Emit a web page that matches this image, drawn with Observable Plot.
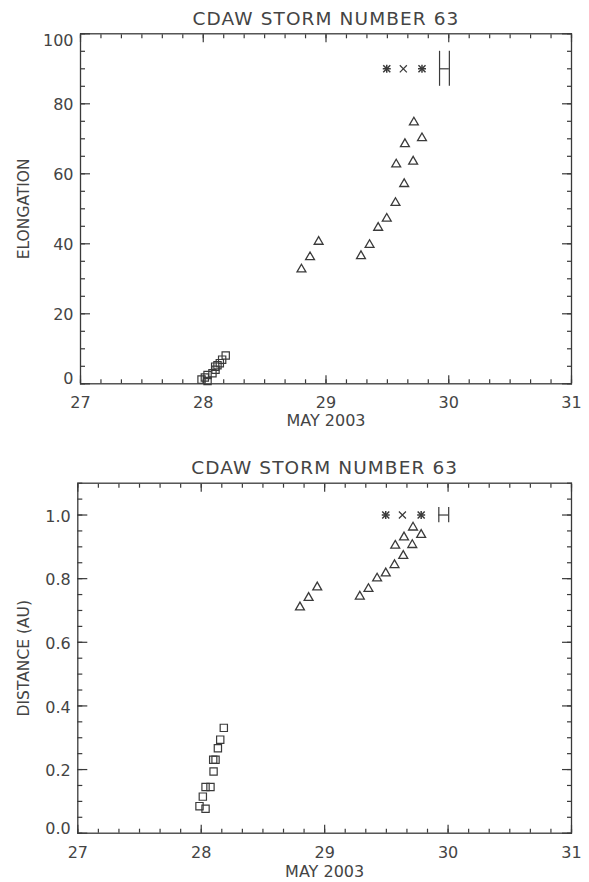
<!DOCTYPE html>
<html><head><meta charset="utf-8">
<script src="https://cdn.jsdelivr.net/npm/d3@7"></script>
<script src="https://cdn.jsdelivr.net/npm/@observablehq/plot@0.6"></script>
<style>
html,body{margin:0;padding:0;background:#fff;}
#chart{width:589px;height:882px;}
#chart svg{display:block;}
</style></head><body><div id="chart"></div>
<script>
// ---- data ----
const title = "CDAW STORM NUMBER 63";
const xLabel = "MAY 2003";
const yLabelTop = "ELONGATION";
const yLabelBottom = "DISTANCE (AU)";

const xTicks = [27, 28, 29, 30, 31];
const yTicksTop = [0, 20, 40, 60, 80, 100];
const yTicksBottom = [0, 0.2, 0.4, 0.6, 0.8, 1.0];

// triangles (same events in both panels)
const triDays  = [28.80, 28.87, 28.94, 29.285, 29.355, 29.425, 29.495, 29.566, 29.637, 29.572, 29.643, 29.710, 29.716, 29.782];
const triElong = [32.7, 36.2, 40.6, 36.5, 39.7, 44.6, 47.2, 51.7, 57.1, 62.7, 68.5, 63.5, 74.7, 70.2];
const triDist  = [0.710, 0.740, 0.773, 0.744, 0.768, 0.801, 0.817, 0.843, 0.872, 0.904, 0.930, 0.906, 0.961, 0.938];

// squares
const sqDays  = [27.986, 28.013, 28.035, 28.075, 28.035, 28.100, 28.097, 28.116, 28.135, 28.154, 28.183];
const sqElong = [1.2, 1.8, 2.5, 3.0, 0.8, 4.0, 4.9, 5.3, 5.9, 6.9, 8.1];
const sqDist  = [0.085, 0.115, 0.145, 0.145, 0.077, 0.194, 0.231, 0.231, 0.267, 0.294, 0.331];

// arrival markers
const starDays = [29.495, 29.782];
const crossDays = [29.630];
const markerElong = 90;
const markerDist = 1.0;

// timing error bar
const errX1 = 29.925, errX2 = 30.005;
const errCapElong = 5.0;
const errCapDist = 0.024;

// ---- drawing ----
const INK = "#3a3a3a";
const TXT = "#444";

function panel(cfg) {
  const xMinor = d3.range(27, 31.0001, 1/6);
  const yMinor = d3.range(cfg.y0, cfg.y1 + 1e-9, cfg.yMinorStep);
  const yMid = cfg.yTicks.slice(1, -1);
  const yFirst = [cfg.yTicks[0]];
  const yLast = [cfg.yTicks[cfg.yTicks.length - 1]];
  const lab = (v) => cfg.fmt(v);
  const tri = triDays.map((d, i) => ({day: d, v: cfg.tri[i]}));
  const sq = sqDays.map((d, i) => ({day: d, v: cfg.sq[i]}));
  const stars = starDays.map(d => ({day: d, v: cfg.mark}));
  const crosses = crossDays.map(d => ({day: d, v: cfg.mark}));
  const err = [{x1: errX1, x2: errX2, v: cfg.mark}];
  const caps = [errX1, errX2].map(x => ({x, lo: cfg.mark - cfg.cap, hi: cfg.mark + cfg.cap}));
  const tickStyle = {stroke: INK, strokeWidth: 1.2, tickFormat: () => "", label: null};
  const labStyle = {tickSize: 0, label: null, fill: TXT, fontSize: 16};
  const svg = Plot.plot({
    width: 589, height: 441,
    marginLeft: cfg.ml, marginRight: 18, marginTop: cfg.mt, marginBottom: cfg.mb,
    x: {domain: [27, 31]},
    y: {domain: [cfg.y0, cfg.y1]},
    style: {fontFamily: "DejaVu Sans", fontSize: "16px", color: TXT, background: "#fff", overflow: "visible"},
    marks: [
      // inward ticks, all four sides
      Plot.axisX(xTicks, {anchor: "bottom", tickSize: -8, ...tickStyle}),
      Plot.axisX(xMinor, {anchor: "bottom", tickSize: -4, ...tickStyle}),
      Plot.axisX(xTicks, {anchor: "top", tickSize: -8, ...tickStyle}),
      Plot.axisX(xMinor, {anchor: "top", tickSize: -4, ...tickStyle}),
      Plot.axisY(cfg.yTicks, {anchor: "left", tickSize: -10, ...tickStyle}),
      Plot.axisY(yMinor, {anchor: "left", tickSize: -5, ...tickStyle}),
      Plot.axisY(cfg.yTicks, {anchor: "right", tickSize: -10, ...tickStyle}),
      Plot.axisY(yMinor, {anchor: "right", tickSize: -5, ...tickStyle}),
      // labels
      Plot.axisX(xTicks, {anchor: "bottom", tickPadding: 13, tickFormat: d => String(d), ...labStyle}),
      Plot.axisY(yMid, {anchor: "left", tickPadding: 7, dy: 1.5, tickFormat: lab, ...labStyle}),
      Plot.axisY(yFirst, {anchor: "left", tickPadding: 7, dy: -4.5, tickFormat: lab, ...labStyle}),
      Plot.axisY(yLast, {anchor: "left", tickPadding: 7, dy: cfg.lastDy, tickFormat: lab, ...labStyle}),
      Plot.frame({stroke: INK, strokeWidth: 1.3}),
      // titles
      Plot.text([title], {text: d => d, frameAnchor: "top", dy: cfg.titleDy, fontSize: 18.5, fill: TXT, textAnchor: "middle", lineAnchor: "middle"}),
      Plot.text([xLabel], {text: d => d, frameAnchor: "bottom", dy: cfg.xlabDy, fontSize: 16, fill: TXT, textAnchor: "middle", lineAnchor: "middle"}),
      Plot.text([cfg.ylabel], {text: d => d, frameAnchor: "left", dx: cfg.ylabDx, rotate: -90, fontSize: 15.5, fill: TXT, textAnchor: "middle", lineAnchor: "middle"}),
      // data
      Plot.dot(sq, {x: "day", y: "v", symbol: "square", r: 4.1, stroke: INK, strokeWidth: 1.2, fill: "none"}),
      Plot.dot(tri, {x: "day", y: "v", symbol: "triangle", r: 3.3, stroke: INK, strokeWidth: 1.3, fill: "none"}),
      Plot.dot(stars, {x: "day", y: "v", symbol: "plus", r: 2.7, stroke: INK, strokeWidth: 1.5}),
      Plot.dot(stars, {x: "day", y: "v", symbol: "times", r: 3.3, stroke: INK, strokeWidth: 1.5}),
      Plot.dot(crosses, {x: "day", y: "v", symbol: "times", r: 3.3, stroke: INK, strokeWidth: 1.2}),
      Plot.ruleY(err, {y: "v", x1: "x1", x2: "x2", stroke: INK, strokeWidth: 1.2}),
      Plot.ruleX(caps, {x: "x", y1: "lo", y2: "hi", stroke: INK, strokeWidth: 1.2})
    ]
  });
  // widen the title's letter spacing like the original
  svg.querySelectorAll("text").forEach(t => {
    if (t.textContent === title) t.style.letterSpacing = "1.1px";
  });
  return svg;
}

const topPanel = panel({
  y0: 0, y1: 100, yTicks: yTicksTop, yMinorStep: 5, fmt: d => String(d),
  tri: triElong, sq: sqElong, mark: markerElong, cap: errCapElong,
  ml: 80, mt: 33.3, mb: 441 - 383.3, lastDy: 7,
  titleDy: -15, xlabDy: 37.5, ylabDx: -56.5, ylabel: yLabelTop
});
const bottomPanel = panel({
  y0: 0, y1: 1.1, yTicks: yTicksBottom, yMinorStep: 0.05, fmt: d => d.toFixed(1),
  tri: triDist, sq: sqDist, mark: markerDist, cap: errCapDist,
  ml: 77.3, mt: 482.7 - 441, mb: 882 - 832.7, lastDy: 1.5,
  titleDy: -15.5, xlabDy: 39, ylabDx: -53.5, ylabel: yLabelBottom
});
const root = document.getElementById("chart");
root.appendChild(topPanel);
root.appendChild(bottomPanel);
</script></body></html>
